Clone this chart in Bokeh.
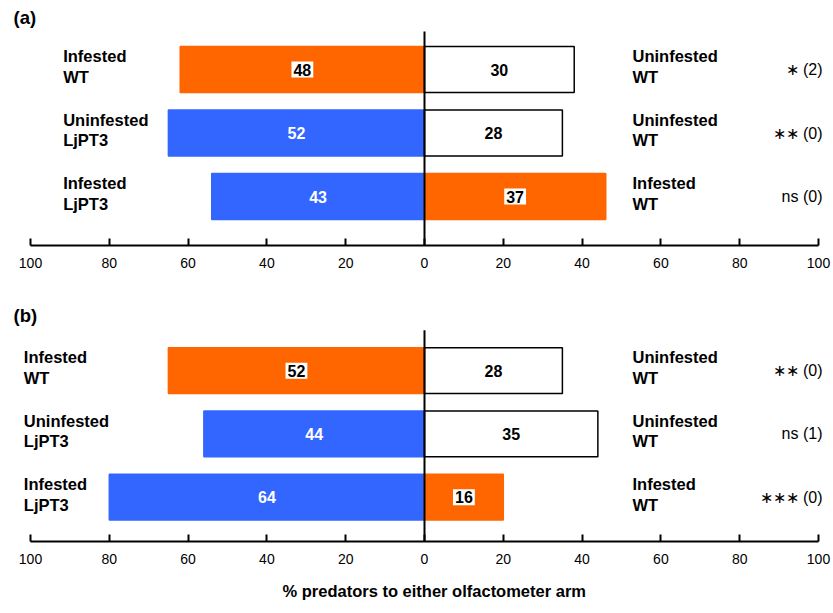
from bokeh.plotting import figure
from bokeh.models import ColumnDataSource, FixedTicker, Range1d, Title
from bokeh.layouts import column
from bokeh.core.properties import value
from bokeh.embed import file_html
from bokeh.resources import INLINE

# ---------------- data ----------------
rows = [3, 2, 1]  # top-to-bottom row slots

a_left_names = ["Infested\nWT", "Uninfested\nLjPT3", "Infested\nLjPT3"]
a_right_names = ["Uninfested\nWT", "Uninfested\nWT", "Infested\nWT"]
a_left_pct = [62, 65, 54]
a_right_pct = [38, 35, 46]
a_left_n = [48, 52, 43]
a_right_n = [30, 28, 37]
a_sig = ["\u2217 (2)", "\u2217\u2217 (0)", "ns (0)"]

b_left_names = ["Infested\nWT", "Uninfested\nLjPT3", "Infested\nLjPT3"]
b_right_names = ["Uninfested\nWT", "Uninfested\nWT", "Infested\nWT"]
b_left_pct = [65, 56, 80]
b_right_pct = [35, 44, 20]
b_left_n = [52, 44, 64]
b_right_n = [28, 35, 16]
b_sig = ["\u2217\u2217 (0)", "ns (1)", "\u2217\u2217\u2217 (0)"]

tick_values = [-100, -80, -60, -40, -20, 0, 20, 40, 60, 80, 100]
tick_labels = ["100", "80", "60", "40", "20", "0", "20", "40", "60", "80", "100"]
x_title = "% predators to either olfactometer arm"

# ---------------- style ----------------
ORANGE = "#FF6600"
BLUE = "#3366FF"
FONT = value("Liberation Sans")
PAGE_X0 = 0       # page x of figure's left edge
W = 831
S = 3.94          # px per % unit
ROW_PX = 63.5     # px per row slot
X_START = -100 - (30 - PAGE_X0) / S
X_END = X_START + W / S
BAR_H = 46 / ROW_PX


def odour_fill(name):
    if "LjPT3" in name:
        return BLUE
    if name.startswith("Infested"):
        return ORANGE
    return "white"


def make_panel(tag, left_names, right_names, left_pct, right_pct, left_n,
               right_n, sig, top_page, height, axis_page, row1_page,
               line_top_page, tag_page, left_name_page, with_title):
    y_top = 3 + (row1_page - top_page) / ROW_PX
    y_bot = 3 - (axis_page - row1_page) / ROW_PX
    p = figure(width=W, height=height, output_backend="svg",
               toolbar_location=None, x_range=Range1d(X_START, X_END),
               y_range=Range1d(y_bot, y_top), y_axis_location=None,
               min_border_left=0, min_border_right=0, min_border_top=0,
               min_border_bottom=top_page + height - axis_page)
    p.outline_line_color = None
    p.xgrid.visible = False
    p.ygrid.visible = False
    p.background_fill_color = "white"
    p.border_fill_color = "white"

    lf = [odour_fill(n) for n in left_names]
    rf = [odour_fill(n) for n in right_names]
    lsrc = ColumnDataSource(dict(y=rows, left=[-v for v in left_pct],
                                 right=[0] * len(rows), fill=lf,
                                 line=[("black" if c == "white" else c) for c in lf]))
    rsrc = ColumnDataSource(dict(y=rows, left=[0] * len(rows), right=right_pct,
                                 fill=rf,
                                 line=[("black" if c == "white" else c) for c in rf]))
    for src in (lsrc, rsrc):
        p.hbar(y="y", left="left", right="right", height=BAR_H, source=src,
               fill_color="fill", line_color="line", line_width=1.5)

    # zero line
    y_line_top = 3 + (row1_page - line_top_page) / ROW_PX
    p.segment(x0=[0], y0=[y_bot], x1=[0], y1=[y_line_top], line_color="black",
              line_width=2)

    # count labels
    boxed = dict(x=[], y=[], t=[])
    plain = dict(x=[], y=[], t=[], c=[])
    for i, r in enumerate(rows):
        for sign, pct, n, fill in ((-1, left_pct[i], left_n[i], lf[i]),
                                   (1, right_pct[i], right_n[i], rf[i])):
            cx = sign * pct / 2
            if fill == ORANGE:
                boxed["x"].append(cx); boxed["y"].append(r); boxed["t"].append(str(n))
            else:
                plain["x"].append(cx); plain["y"].append(r); plain["t"].append(str(n))
                plain["c"].append("white" if fill == BLUE else "black")
    p.text(x="x", y="y", text="t", source=ColumnDataSource(boxed),
           text_font=FONT, text_font_style="bold", text_font_size="16px",
           text_align="center", text_baseline="middle", text_color="black",
           background_fill_color="white", padding=2)
    p.text(x="x", y="y", text="t", text_color="c", source=ColumnDataSource(plain),
           text_font=FONT, text_font_style="bold", text_font_size="16px",
           text_align="center", text_baseline="middle")

    # odour-source names
    left_x = -100 + (left_name_page - 30) / S
    right_x = 100 - (818 - 632) / S
    p.text(x=[left_x] * 3, y=rows, text=left_names, text_font=FONT,
           text_font_style="bold", text_font_size="16.5px", text_align="left",
           text_baseline="middle", text_line_height=1.15, y_offset=-3,
           text_color="black")
    p.text(x=[right_x] * 3, y=rows, text=right_names, text_font=FONT,
           text_font_style="bold", text_font_size="16.5px", text_align="left",
           text_baseline="middle", text_line_height=1.15, y_offset=-3,
           text_color="black")
    sig_x = 100 + (822 - 818) / S
    p.text(x=[sig_x] * 3, y=rows, text=sig, text_font=FONT,
           text_font_size="16px", text_align="right", text_baseline="middle",
           text_color="black")

    # panel tag
    p.text(x=[-100 + (13 - 30) / S], y=[3 + (row1_page - tag_page) / ROW_PX],
           text=[tag], text_font=FONT, text_font_style="bold",
           text_font_size="18.5px", text_align="left", text_baseline="middle",
           text_color="black")

    ax = p.xaxis[0]
    ax.ticker = FixedTicker(ticks=tick_values)
    ax.minor_tick_line_color = None
    ax.major_label_overrides = {v: l for v, l in zip(tick_values, tick_labels)}
    ax.bounds = (-100, 100)
    ax.axis_line_width = 2
    ax.axis_line_color = "black"
    ax.major_tick_line_width = 2
    ax.major_tick_line_color = "black"
    ax.major_tick_in = 7
    ax.major_tick_out = 0
    ax.major_label_standoff = 12
    ax.major_label_text_font = "Liberation Sans"
    ax.major_label_text_font_size = "14px"
    ax.major_label_text_color = "black"
    if with_title:
        p.add_layout(Title(text=x_title, align="left", offset=282 - PAGE_X0,
                           text_font="Liberation Sans", text_font_style="bold",
                           text_font_size="16.5px", text_color="black",
                           standoff=27), "below")
    return p


pa = make_panel("(a)", a_left_names, a_right_names, a_left_pct, a_right_pct,
                a_left_n, a_right_n, a_sig, top_page=0, height=290,
                axis_page=245, row1_page=69, line_top_page=31, tag_page=17,
                left_name_page=62.7, with_title=False)
pb = make_panel("(b)", b_left_names, b_right_names, b_left_pct, b_right_pct,
                b_left_n, b_right_n, b_sig, top_page=290, height=323,
                axis_page=542, row1_page=370.5, line_top_page=330, tag_page=315,
                left_name_page=23.3, with_title=True)

layout = column(pa, pb)
open("out.html", "w").write(file_html(layout, INLINE))
